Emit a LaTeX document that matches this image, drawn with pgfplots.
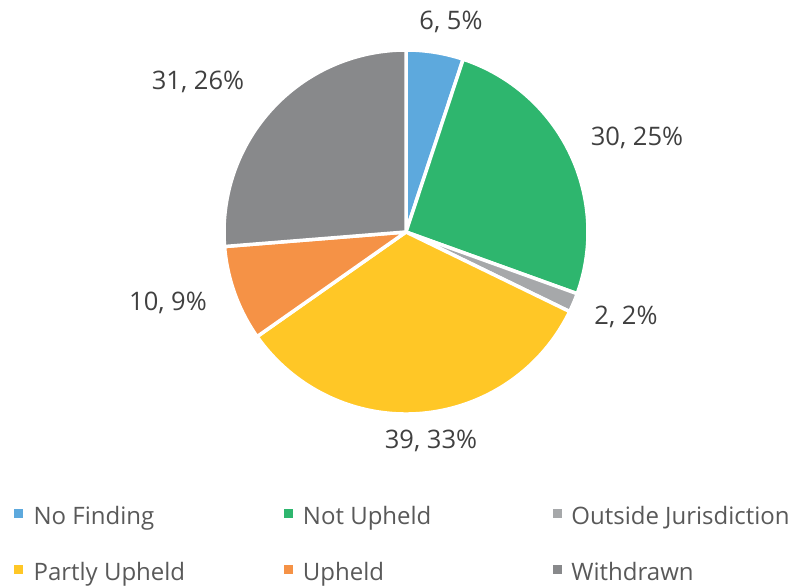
\documentclass[border=0pt]{standalone}
\usepackage{pgfplots}
\usepackage{pgfplotstable}
\pgfplotsset{compat=1.18}
\usepackage{fontspec}
\setmainfont{Open Sans}
\definecolor{col0}{RGB}{93,169,221}
\definecolor{col1}{RGB}{46,182,110}
\definecolor{col2}{RGB}{166,168,170}
\definecolor{col3}{RGB}{255,199,38}
\definecolor{col4}{RGB}{245,146,70}
\definecolor{col5}{RGB}{136,137,139}
\definecolor{labc}{RGB}{64,64,64}
\definecolor{legc}{RGB}{89,89,89}
% name, value, rounded percent (as shown), label position (x, y up)
\pgfplotstableread[col sep=comma]{
name,value,pct,lx,ly
No Finding,6,5,451,565
Not Upheld,30,25,637,449
Outside Jurisdiction,2,2,626,270
Partly Upheld,39,33,431,146
Upheld,10,9,168,284
Withdrawn,31,26,198,505
}\piedata
\begin{document}
\begin{tikzpicture}
\begin{axis}[
  x=1bp, y=1bp, xmin=0, xmax=796, ymin=0, ymax=587,
  hide axis, clip=false,
  legend columns=3,
  legend cell align=left,
  legend image code/.code={\fill[#1] (0bp,1bp) rectangle (8bp,9bp);},
  legend style={draw=none, fill=none, inner sep=0pt, column sep=0pt, row sep=32bp,
    at={(axis cs:14,81)}, anchor=north west,
    font=\fontsize{24bp}{28bp}\selectfont, text=legc,
    nodes={inner sep=0pt, text height=18bp, text depth=6bp}},
]
\pgfplotsextra{
  \path (rel axis cs:0,0) rectangle (rel axis cs:1,1);
  \def\cum{0}
  \pgfplotsforeachungrouped \i in {0,...,5}{
    \pgfplotstablegetelem{\i}{value}\of\piedata \let\v\pgfplotsretval
    \pgfmathsetmacro\aone{90-(360/118)*\cum}
    \pgfmathsetmacro\cum{\cum+\v}
    \pgfmathsetmacro\atwo{90-(360/118)*\cum}
    \filldraw[fill=col\i, draw=white, line width=3.5bp, line join=round]
      (axis cs:406,355) -- ++(\aone:182bp) arc[start angle=\aone, end angle=\atwo, radius=182bp] -- cycle;
  }
  \pgfplotsforeachungrouped \i in {0,...,5}{
    \pgfplotstablegetelem{\i}{value}\of\piedata \let\v\pgfplotsretval
    \pgfplotstablegetelem{\i}{pct}\of\piedata \let\p\pgfplotsretval
    \pgfplotstablegetelem{\i}{lx}\of\piedata \let\lx\pgfplotsretval
    \pgfplotstablegetelem{\i}{ly}\of\piedata \let\ly\pgfplotsretval
    \node[text=labc, font=\fontsize{25.5bp}{30bp}\selectfont] at (axis cs:\lx,\ly) {\v, \p\%};
  }
}
\addlegendimage{col0}
\addlegendimage{col1}
\addlegendimage{col2}
\addlegendimage{col3}
\addlegendimage{col4}
\addlegendimage{col5}
\legend{\makebox[261bp][l]{\hspace{11bp}No Finding},
        \makebox[261bp][l]{\hspace{11bp}Not Upheld},
        \makebox[230bp][l]{\hspace{10bp}Outside Jurisdiction},
        \makebox[261bp][l]{\hspace{11bp}Partly Upheld},
        \makebox[261bp][l]{\hspace{11bp}Upheld},
        \makebox[230bp][l]{\hspace{10bp}Withdrawn}}
\end{axis}
\end{tikzpicture}
\end{document}
